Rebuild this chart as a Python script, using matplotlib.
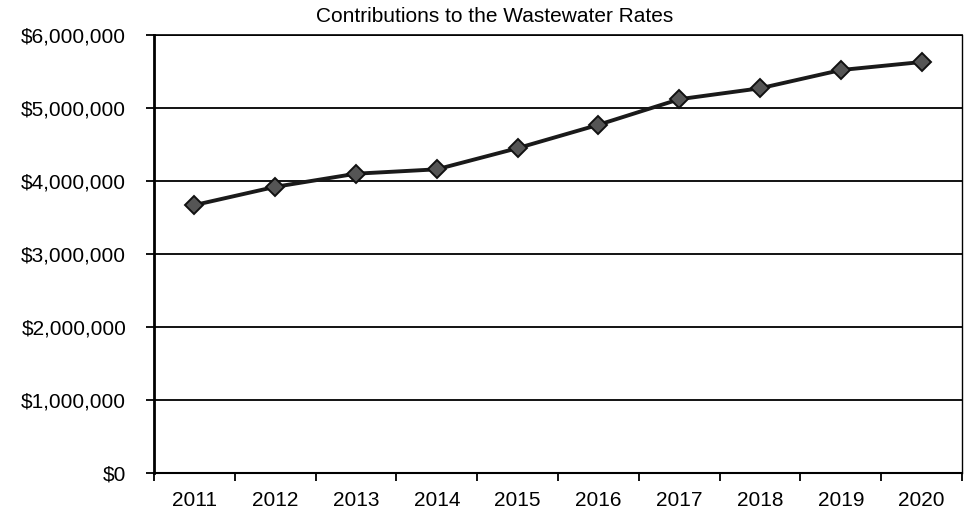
"""Line chart of yearly contributions to the wastewater rates, 2011-2020."""
import numpy as np
import matplotlib
matplotlib.use("Agg")
import matplotlib.pyplot as plt
from matplotlib.ticker import FuncFormatter, FixedLocator

plt.rcParams["font.family"] = ["Liberation Sans", "DejaVu Sans"]

years = ["2011", "2012", "2013", "2014", "2015", "2016", "2017", "2018", "2019", "2020"]
contributions = [3670000, 3920000, 4100000, 4160000, 4450000,
                 4770000, 5120000, 5270000, 5520000, 5630000]


def dollars(v, _pos):
    return f"${v:,.0f}"


fig = plt.figure(figsize=(9.67, 5.20), dpi=100)
ax = fig.add_axes([154 / 967, 1 - 473 / 520, (962 - 154) / 967, (473 - 35) / 520])

# categories sit in the middle of each slot, ticks on the slot boundaries
x = np.arange(len(years)) + 0.5
ax.plot(x, contributions, color="#1a1a1a", lw=2.8, zorder=3,
        marker="D", markersize=9.5, markerfacecolor="#555555",
        markeredgecolor="#111111", markeredgewidth=1.4)

ax.set_xlim(0, len(years))
ax.set_ylim(0, 6000000)
ax.yaxis.set_major_locator(FixedLocator(np.arange(0, 6000001, 1000000)))
ax.yaxis.set_major_formatter(FuncFormatter(dollars))
ax.grid(axis="y", color="black", lw=1.3)
ax.set_axisbelow(True)

ax.set_xticks(np.arange(len(years) + 1))
ax.set_xticklabels([])
ax.set_xticks(x, minor=True)
ax.set_xticklabels(years, minor=True)
ax.tick_params(axis="x", which="major", direction="out", length=6, width=1.3)
ax.tick_params(axis="x", which="minor", length=0, pad=13, labelsize=15)
ax.tick_params(axis="y", direction="out", length=6, width=1.3, pad=14, labelsize=15)

ax.spines["left"].set_linewidth(2.0)
ax.spines["bottom"].set_linewidth(1.5)
ax.spines["top"].set_linewidth(1.2)
ax.spines["right"].set_linewidth(1.0)
for s in ax.spines.values():
    s.set_color("black")

fig.text(495 / 967, 1 - 22 / 520, "Contributions to the Wastewater Rates",
         ha="center", va="baseline", fontsize=15)

fig.savefig("out.png", dpi=100)
